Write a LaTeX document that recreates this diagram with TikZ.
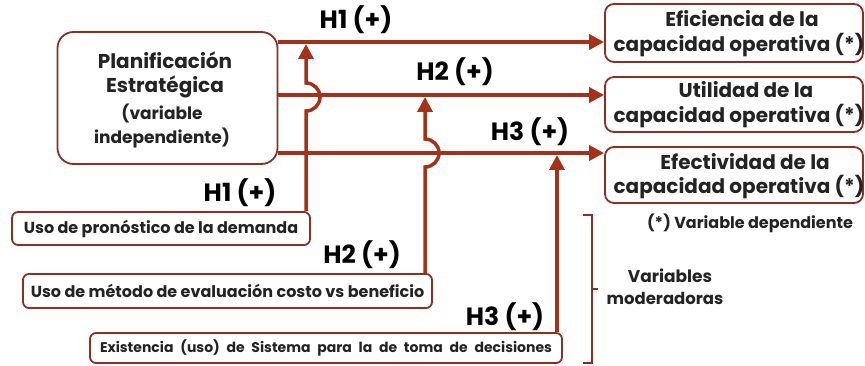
\documentclass[tikz,border=0pt]{standalone}
\usepackage{fontspec}
\setmainfont{Poppins}
\usetikzlibrary{arrows.meta}
\definecolor{boxc}{RGB}{139,48,32}
\definecolor{arrc}{RGB}{165,50,24}
\definecolor{txt}{RGB}{35,35,35}
\newcommand{\fsz}[1]{\fontsize{#1}{#1}\selectfont}
\begin{document}
\begin{tikzpicture}[x=1pt,y=-1pt,
 box/.style={draw=boxc, line width=1.8pt, rounded corners=9pt, align=center, text=txt, inner sep=0pt, font=\bfseries},
 arr/.style={draw=arrc, line width=3.5pt, -{Triangle[length=15pt,width=15pt]}},
 lab/.style={font=\bfseries\fsz{25}, text=black},
 etxt/.style={font=\bfseries\fsz{20}, text=txt},
 brace/.style={draw=boxc, line width=2pt},
]
\useasboundingbox (0,0) rectangle (865,366);
% main box
\node[box, minimum width=220pt, minimum height=132pt, rounded corners=16pt] (main) at (167.5,98) {};
\node[font=\bfseries\fsz{20}, text=txt] (m1) at (165,60) {Planificación};
\node[font=\bfseries\fsz{20}, text=txt] (m2) at (165,87) {Estratégica};
\node[font=\bfseries\fsz{17}, text=txt] (m3) at (162,114) {(variable};
\node[font=\bfseries\fsz{17}, text=txt] (m4) at (162,138) {independiente)};
% dependent boxes
\node[box, minimum width=258pt, minimum height=58pt] (E1) at (734,33) {};
\node[box, minimum width=258pt, minimum height=55pt] (E2) at (734,104.5) {};
\node[box, minimum width=258pt, minimum height=56pt] (E3) at (734,175) {};
\node[etxt] (e1a) at (742,19) {Eficiencia de la};
\node[etxt] (e1b) at (739,45) {capacidad operativa (*)};
\node[etxt] (e2a) at (746,90) {Utilidad de la};
\node[etxt] (e2b) at (739,116) {capacidad operativa (*)};
\node[etxt] (e3a) at (745,162) {Efectividad de la};
\node[etxt] (e3b) at (739,187) {capacidad operativa (*)};
% moderator boxes
\node[box, minimum width=298pt, minimum height=33pt, rounded corners=6pt, font=\bfseries\fsz{16}] (M1) at (161,228.5)
  {Uso de pronóstico de la demanda};
\node[box, minimum width=409pt, minimum height=34pt, rounded corners=6pt, font=\bfseries\fsz{16}] (M2) at (227.5,291)
  {Uso de método de evaluación costo vs beneficio};
\node[box, minimum width=472pt, minimum height=30pt, rounded corners=6pt, font=\bfseries\fsz{14}] (M3) at (326,348)
  {\makebox[452pt][s]{Existencia (uso) de Sistema para la de toma de decisiones}};
% labels
\node[lab] (h1a) at (356,20) {H1 (+)};
\node[lab] (h2a) at (455,72) {H2 (+)};
\node[lab] (h3a) at (530,132) {H3 (+)};
\node[lab] (h1b) at (240,193) {H1 (+)};
\node[lab] (h2b) at (362,255) {H2 (+)};
\node[lab] (h3b) at (505,317) {H3 (+)};
\node[font=\bfseries\fsz{16}, text=txt] (note) at (750,223) {(*) Variable dependiente};
\node[font=\bfseries\fsz{17}, text=txt] (vm1) at (670,276) {Variables};
\node[font=\bfseries\fsz{16.5}, text=txt] (vm2) at (665,298) {moderadoras};
% main arrows
\coordinate (a1) at (main.east |- 0,42);
\coordinate (a2) at (main.east |- 0,95);
\coordinate (a3) at (main.east |- 0,153);
\draw[arr] (a1) -- (E1.west |- a1);
\draw[arr] (a2) -- (E2.west |- a2);
\draw[arr] (a3) -- (E3.west |- a3);
% moderator arrows
\draw[arr] (M1.north -| 306,0) -- (306,111) arc(90:-90:14) -- (306,44);
\draw[arr] (M2.north -| 425,0) -- (425,167) arc(90:-90:14) -- (425,97);
\draw[arr] (M3.north -| 557,0) -- (557,155);
% brace
\draw[brace] (583,215) -- (592,215) -- (592,289) -- (598,289);
\draw[brace] (592,289) -- (592,363) -- (583,363);
\end{tikzpicture}
\end{document}
